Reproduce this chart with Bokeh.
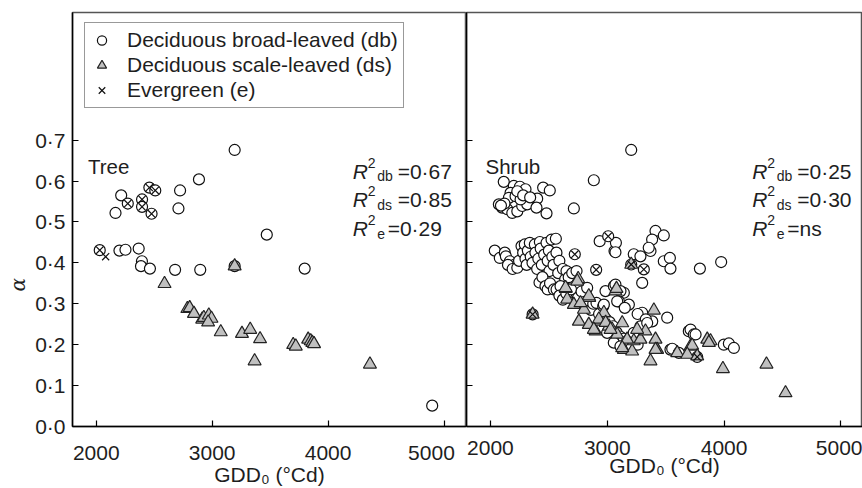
import math
from bokeh.plotting import figure
from bokeh.models import (Range1d, FixedTicker, CustomJSTickFormatter, Label, Title,
                          Legend, LegendItem)
from bokeh.layouts import row
from bokeh.embed import file_html
from bokeh.resources import INLINE

# ---------------- data ----------------
tree_db_gdd = [3194, 2886, 2215, 2166, 2723, 2709, 3471, 2200, 2252, 2366, 2394, 2386,
               2463, 2680, 2897, 3194, 3798, 4898,
               2030, 2272, 2395, 2395, 2458, 2509, 2477]
tree_db_alpha = [0.676, 0.604, 0.565, 0.522, 0.577, 0.533, 0.469, 0.430, 0.432, 0.435, 0.404, 0.392,
                 0.386, 0.383, 0.383, 0.392, 0.386, 0.051,
                 0.431, 0.545, 0.555, 0.537, 0.584, 0.577, 0.520]

tree_ds_gdd = [2589, 2786, 2806, 2843, 2914, 2928, 2971, 2994, 2965, 3074, 3194, 3257,
               3328, 3366, 3413, 3699, 3721, 3828, 3850, 3864, 3879, 4361]
tree_ds_alpha = [0.349, 0.288, 0.290, 0.276, 0.262, 0.266, 0.272, 0.264, 0.255, 0.231, 0.392, 0.227,
                 0.237, 0.160, 0.214, 0.200, 0.196, 0.213, 0.209, 0.205, 0.202, 0.152]

tree_e_gdd = [2030, 2081, 2272, 2395, 2395, 2458, 2509, 2477]
tree_e_alpha = [0.431, 0.415, 0.545, 0.555, 0.537, 0.584, 0.577, 0.520]

shrub_db_gdd = [
    2037, 2080, 2123, 2132, 2166, 2209, 2150, 2190, 2230, 2245, 2266, 2280, 2294, 2300, 2310, 2320,
    2337, 2345, 2360, 2380, 2385, 2400, 2410, 2423, 2430, 2440, 2460, 2480, 2490, 2500, 2505, 2523,
    2530, 2540, 2560, 2565, 2580, 2590, 2620, 2640, 2651, 2670, 2700, 2737, 2420, 2445, 2471, 2490,
    2510, 2543, 2566, 2600, 2590, 2620, 2650, 2690, 2720, 2750, 2780, 2800, 2822, 2828, 2860, 2880,
    2908, 2930, 2965, 2990, 3020, 3050, 3080, 3110, 3140,
    2985, 3057, 3142, 3185, 3070, 3113, 3099, 2971, 3085, 3150,
    3299, 3385, 3513, 3299, 3260, 3330,
    2999, 3056, 3113, 3170, 3227, 3284, 3342, 3200, 3260,
    3541, 3556, 3613, 3698, 3713, 3741, 3756,
    3998, 4041, 4084,
    2935, 3062, 3074, 3070, 3227, 3284, 3370, 3413, 3484, 3384, 3355, 3484, 3536, 3541, 3793, 3975, 3205,
    2722, 2905, 3008, 3313, 2361, 3770,
    2114, 2200, 2252, 2300, 2072, 2100, 2144, 2187, 2230, 2272, 2315, 2172, 2158, 2215, 2258, 2400,
    2394, 2480, 2451, 2508, 2714, 2885, 3205, 2120, 2230, 2280, 2090, 2340]
shrub_db_alpha = [
    0.430, 0.412, 0.425, 0.416, 0.404, 0.396, 0.395, 0.385, 0.388, 0.405, 0.441, 0.425, 0.445, 0.410, 0.395, 0.430,
    0.449, 0.415, 0.400, 0.445, 0.425, 0.385, 0.410, 0.451, 0.435, 0.395, 0.420, 0.449, 0.405, 0.430, 0.380, 0.457,
    0.415, 0.395, 0.459, 0.425, 0.375, 0.405, 0.385, 0.360, 0.380, 0.365, 0.375, 0.380, 0.352, 0.365, 0.343, 0.335,
    0.350, 0.335, 0.335, 0.343, 0.320, 0.310, 0.325, 0.335, 0.305, 0.315, 0.330, 0.300, 0.302, 0.339, 0.285, 0.300,
    0.302, 0.275, 0.294, 0.262, 0.255, 0.245, 0.230, 0.220, 0.215,
    0.331, 0.343, 0.327, 0.298, 0.347, 0.331, 0.306, 0.298, 0.306, 0.290,
    0.278, 0.257, 0.266, 0.351, 0.275, 0.262,
    0.229, 0.205, 0.196, 0.209, 0.229, 0.245, 0.253, 0.190, 0.200,
    0.188, 0.190, 0.180, 0.233, 0.237, 0.225, 0.225,
    0.200, 0.203, 0.192,
    0.453, 0.429, 0.449, 0.426, 0.421, 0.416, 0.429, 0.478, 0.467, 0.457, 0.437, 0.404, 0.412, 0.386, 0.386, 0.402, 0.396,
    0.421, 0.383, 0.465, 0.384, 0.274, 0.170,
    0.598, 0.588, 0.586, 0.580, 0.543, 0.535, 0.531, 0.522, 0.526, 0.539, 0.543, 0.571, 0.559, 0.563, 0.555, 0.557,
    0.535, 0.521, 0.584, 0.577, 0.533, 0.602, 0.676, 0.545, 0.575, 0.565, 0.540, 0.560]

shrub_ds_gdd = [2361, 3205, 2751, 2743, 2645, 2643, 2657, 2714, 2800, 2846, 2842, 2757, 2842, 2900,
                2943, 2971, 3014, 3042, 3085, 3128, 3142, 3213, 3227, 3284, 3327, 3413, 3427, 3370,
                3070, 3079, 3399, 3599, 3713, 3727, 3685, 3770, 3856, 3884, 3870, 3990, 4363, 4526,
                2771, 2928, 2986, 3170, 3256, 3128, 3028, 2885, 3413]
shrub_ds_alpha = [0.274, 0.396, 0.361, 0.355, 0.337, 0.339, 0.311, 0.298, 0.286, 0.315, 0.319, 0.257, 0.249, 0.233,
                  0.257, 0.278, 0.245, 0.237, 0.225, 0.253, 0.188, 0.184, 0.209, 0.213, 0.233, 0.213, 0.188, 0.160,
                  0.331, 0.337, 0.284, 0.180, 0.196, 0.198, 0.176, 0.172, 0.213, 0.209, 0.205, 0.141, 0.152, 0.082,
                  0.302, 0.262, 0.254, 0.213, 0.237, 0.192, 0.237, 0.237, 0.188]

shrub_e_gdd = [2361, 2722, 2905, 3008, 3205, 3313, 3770]
shrub_e_alpha = [0.274, 0.421, 0.383, 0.465, 0.396, 0.384, 0.170]

x_ticks = [2000, 3000, 4000, 5000]
y_ticks = [0.0, 0.1, 0.2, 0.3, 0.4, 0.5, 0.6, 0.7]

legend_labels = ["Deciduous broad-leaved (db)", "Deciduous scale-leaved (ds)", "Evergreen (e)"]
r2_tree = [("db", "=0\u00b767"), ("ds", "=0\u00b785"), ("e", "=0\u00b729")]
r2_shrub = [("db", "=0\u00b725"), ("ds", "=0\u00b730"), ("e", "=ns")]

# ---------------- styling ----------------
FONT = "Liberation Sans"
FS = "21px"
SMALL = "14px"
TXT = "#1e1e1e"
X_START = 1795
Y_END = 1.012


def style_axis(ax):
    ax.axis_line_color = "black"
    ax.axis_line_width = 1.5
    ax.major_tick_line_color = "black"
    ax.major_tick_line_width = 1.2
    ax.major_tick_in = 6
    ax.major_tick_out = 0
    ax.minor_tick_line_color = None
    ax.major_label_text_font = FONT
    ax.major_label_text_font_size = FS
    ax.major_label_text_color = TXT
    ax.axis_label_text_font = FONT
    ax.axis_label_text_font_size = FS
    ax.axis_label_text_font_style = "normal"
    ax.axis_label_text_color = TXT


def make_fig(width, left_border, x_end, xfmt, yfmt):
    p = figure(width=width, height=488, title=None,
               x_range=Range1d(X_START, x_end), y_range=Range1d(0, Y_END),
               output_backend="svg", toolbar_location=None,
               min_border_left=left_border, min_border_right=0,
               min_border_top=12, min_border_bottom=61)
    p.grid.visible = False
    p.background_fill_color = "white"
    p.border_fill_color = "white"
    p.outline_line_color = "#555555"
    p.outline_line_width = 1.5
    p.xaxis.ticker = FixedTicker(ticks=x_ticks)
    p.yaxis.ticker = FixedTicker(ticks=y_ticks)
    p.xaxis.formatter = CustomJSTickFormatter(code=xfmt)
    p.yaxis.formatter = CustomJSTickFormatter(code=yfmt)
    for ax in p.xaxis + p.yaxis:
        style_axis(ax)
    p.xaxis.axis_label = "GDD\u2080 (\u00b0Cd)"
    p.xaxis.major_label_standoff = 14
    p.xaxis.axis_label_standoff = -4
    p.yaxis.major_label_standoff = 7
    return p


def add_points(p, db_x, db_y, ds_x, ds_y, e_x, e_y):
    r_db = p.scatter(db_x, db_y, marker="circle", size=11, fill_color="white",
                     line_color="#111111", line_width=1.2)
    r_ds = p.scatter(ds_x, ds_y, marker="triangle", size=13, fill_color="#c0c0c0",
                     line_color="#222222", line_width=1.2)
    r_e = p.scatter(e_x, e_y, marker="x", size=10, line_color="#111111", line_width=1.2)
    return r_db, r_ds, r_e


def add_r2(p, x, rows):
    baselines = [0.6244, 0.5537, 0.4829]
    for (sub, val), y in zip(rows, baselines):
        p.add_layout(Label(x=x, y=y, text="R", text_font=FONT, text_font_size=FS,
                           text_font_style="italic", text_color=TXT, text_baseline="alphabetic"))
        p.add_layout(Label(x=x, y=y, x_offset=15, y_offset=8.5, text="2", text_font=FONT,
                           text_font_size=SMALL, text_color=TXT, text_baseline="alphabetic"))
        p.add_layout(Label(x=x, y=y, x_offset=24.5, y_offset=-5, text=sub, text_font=FONT,
                           text_font_size=SMALL, text_color=TXT, text_baseline="alphabetic"))
        off = 35 if sub == "e" else 45
        p.add_layout(Label(x=x, y=y, x_offset=off, text=val, text_font=FONT,
                           text_font_size=FS, text_color=TXT, text_baseline="alphabetic"))


YFMT = "return tick.toFixed(1).replace('.', '\u00b7');"
XFMT_LEFT = "return tick == 5000 ? '5000\u00a0\u00a0' : tick.toFixed(0);"
XFMT_RIGHT = "return tick.toFixed(0);"

# ---------------- left panel: Tree ----------------
p1 = make_fig(466, 69, 5194, XFMT_LEFT, YFMT)
r_db, r_ds, r_e = add_points(p1, tree_db_gdd, tree_db_alpha, tree_ds_gdd, tree_ds_alpha,
                             tree_e_gdd, tree_e_alpha)
p1.add_layout(Label(x=1929, y=0.635, text="Tree", text_font=FONT, text_font_size="20.5px",
                    text_color=TXT, text_baseline="alphabetic"))
add_r2(p1, 4212, r2_tree)
p1.add_layout(Title(text="\u03b1", align="left", offset=135, standoff=6,
                    text_font="DejaVu Serif", text_font_style="italic",
                    text_font_size="20px", text_color=TXT), "left")

legend = Legend(items=[LegendItem(label=legend_labels[0], renderers=[r_db]),
                       LegendItem(label=legend_labels[1], renderers=[r_ds]),
                       LegendItem(label=legend_labels[2], renderers=[r_e])],
                location=(12, 318), orientation="vertical",
                label_text_font=FONT, label_text_font_size=FS, label_text_color=TXT,
                label_height=24, glyph_height=24, glyph_width=23, spacing=1, padding=5,
                label_standoff=14, margin=0,
                border_line_color="#333333", border_line_width=1.5,
                background_fill_color="white", background_fill_alpha=1.0)
p1.add_layout(legend)

# ---------------- right panel: Shrub ----------------
p2 = make_fig(396, 0, 5185, XFMT_RIGHT, "return '';")
add_points(p2, shrub_db_gdd, shrub_db_alpha, shrub_ds_gdd, shrub_ds_alpha,
           shrub_e_gdd, shrub_e_alpha)
p2.yaxis.major_label_standoff = 0
p2.add_layout(Label(x=1958, y=0.636, text="Shrub", text_font=FONT, text_font_size="20.5px",
                    text_color=TXT, text_baseline="alphabetic"))
add_r2(p2, 4241, r2_shrub)

layout = row(p1, p2, spacing=0)
open("out.html", "w").write(file_html(layout, INLINE))
